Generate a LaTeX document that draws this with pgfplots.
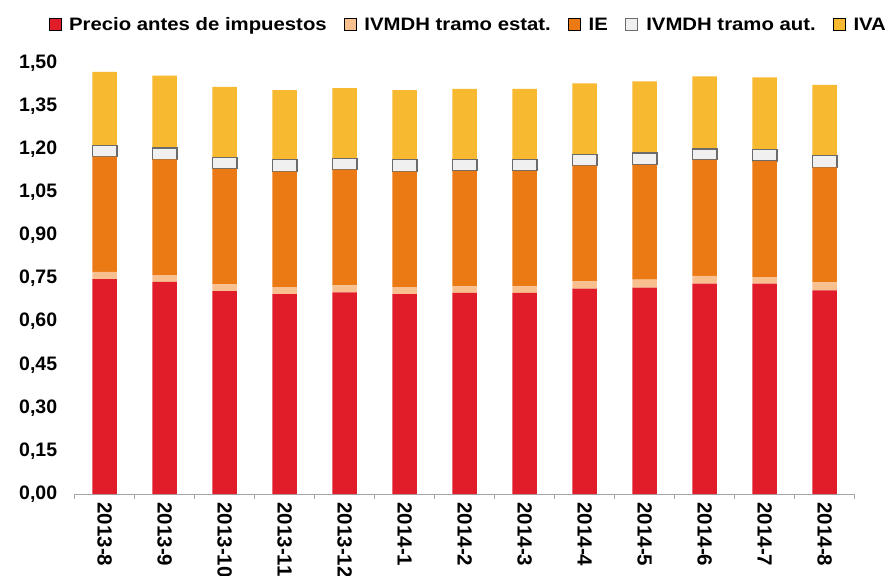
\documentclass[border=0pt]{standalone}
\usepackage{fontspec}
\setmainfont{Liberation Sans}
\newfontfamily\legfont[FakeStretch=1.13]{Liberation Sans}
\usepackage{pgfplots}
\pgfplotsset{compat=1.18}
\usepackage{pgfplotstable}
\definecolor{cPrecio}{HTML}{E11D2A}
\definecolor{cEstat}{HTML}{F9C08F}
\definecolor{cIE}{HTML}{EC7A14}
\definecolor{cAut}{HTML}{F0F0F0}
\definecolor{cAutB}{HTML}{6B6B6B}
\definecolor{cIVA}{HTML}{F7B92F}
\definecolor{cAxis}{HTML}{A6A6A6}

\pgfplotstableread{
x precio estat ie aut iva
0 0.748 0.025 0.401 0.040 0.255
1 0.738 0.024 0.403 0.039 0.252
2 0.706 0.024 0.402 0.040 0.245
3 0.696 0.024 0.402 0.041 0.243
4 0.702 0.024 0.403 0.039 0.245
5 0.696 0.024 0.402 0.041 0.243
6 0.700 0.023 0.402 0.040 0.245
7 0.700 0.023 0.402 0.040 0.245
8 0.715 0.025 0.403 0.039 0.247
9 0.718 0.028 0.400 0.041 0.249
10 0.732 0.027 0.404 0.038 0.253
11 0.732 0.023 0.404 0.039 0.252
12 0.709 0.028 0.400 0.042 0.245
}\data

\begin{document}
\begin{tikzpicture}
\begin{axis}[
  at={(0,0)}, anchor=south west,
  x=60bp, y=287.3bp,
  xmin=-0.5, xmax=12.5, ymin=0, ymax=1.5,
  ybar stacked, bar width=24.5bp,
  axis x line*=bottom, axis y line*=left,
  y axis line style={draw=none},
  x axis line style={cAxis, line width=0.8bp, -},
  ytick={0,0.15,0.3,0.45,0.6,0.75,0.9,1.05,1.2,1.35,1.5},
  ytick style={draw=none},
  y tick label style={/pgf/number format/.cd, fixed, fixed zerofill, precision=2, use comma, assume math mode=true, /tikz/.cd,
     font=\bfseries\fontsize{19.5bp}{22bp}\selectfont, xshift=-14bp},
  xtick={-0.5,0.5,...,12.5},
  x tick label as interval,
  xticklabels={2013-8,2013-9,2013-10,2013-11,2013-12,2014-1,2014-2,2014-3,2014-4,2014-5,2014-6,2014-7,2014-8},
  xtick align=outside,
  xtick style={cAxis, line width=0.8bp},
  major tick length=5bp,
  x tick label style={rotate=-90, anchor=west, font=\bfseries\fontsize{20.5bp}{22bp}\selectfont},
  legend columns=-1,
  legend style={at={(axis description cs:-0.0334,1.0893)}, anchor=west, draw=none, fill=none,
     inner sep=0pt, outer sep=0pt, font=\legfont\bfseries\fontsize{18bp}{20bp}\selectfont,
     /tikz/every odd column/.append style={column sep=6bp},
     /tikz/every even column/.append style={column sep=15.3bp}},
  legend image code/.code={\draw[#1] (0bp,-6bp) rectangle (12bp,6bp);},
]
\addplot[fill=cPrecio, draw=none] table[x=x,y=precio]{\data};
\addlegendentry{Precio antes de impuestos}
\addplot[fill=cEstat, draw=none] table[x=x,y=estat]{\data};
\addlegendentry{IVMDH tramo estat.}
\addplot[fill=cIE, draw=none] table[x=x,y=ie]{\data};
\addlegendentry{IE}
\addplot[fill=cAut, draw=cAutB, line width=1.2bp] table[x=x,y=aut]{\data};
\addlegendentry{IVMDH tramo aut.}
\addplot[fill=cIVA, draw=none] table[x=x,y=iva]{\data};
\addlegendentry{IVA}
\end{axis}
\pgfresetboundingbox
\path[use as bounding box] (-74.7bp,-82bp) rectangle (814.3bp,494bp);
\end{tikzpicture}
\end{document}
